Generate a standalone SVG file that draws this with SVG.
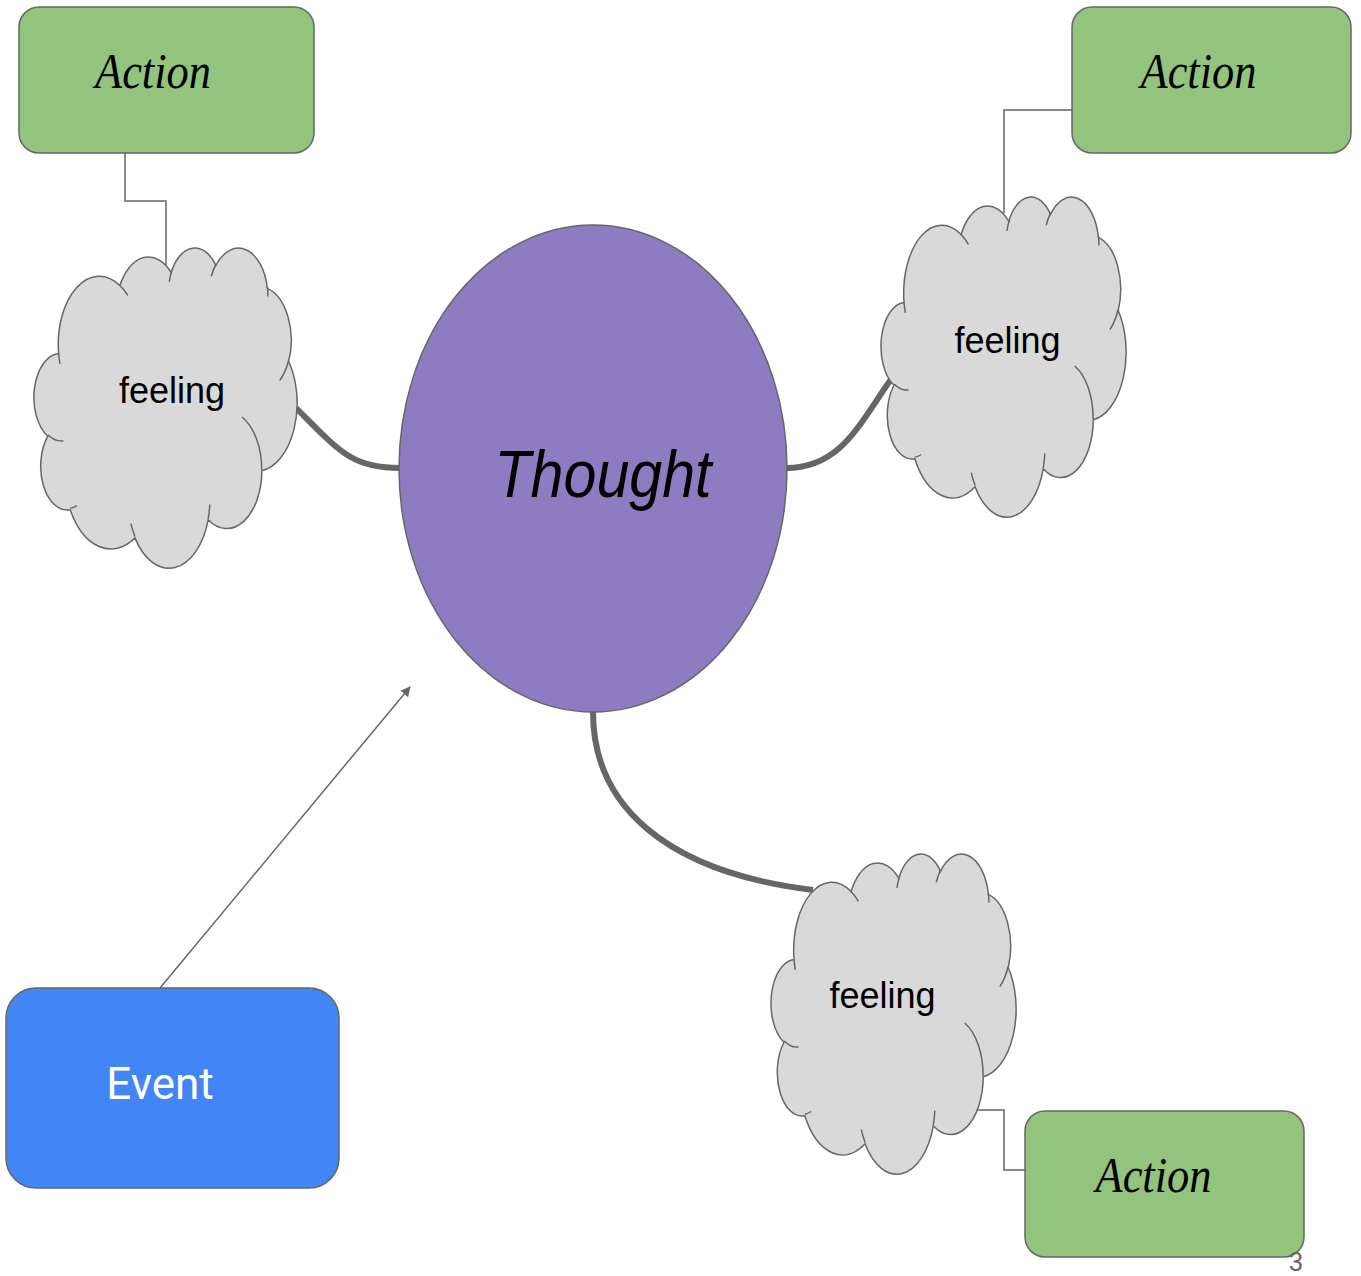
<svg xmlns="http://www.w3.org/2000/svg" width="1361" height="1276" viewBox="0 0 1361 1276">
<defs>
<style>
.action{fill:#93c47d;stroke:#666;stroke-width:1.5}
.atxt{font-family:"Liberation Serif",serif;font-style:italic;font-size:50px;fill:#000;text-anchor:middle}
.cloud{fill:#d9d9d9;stroke:#666;stroke-width:1.5}
.cloudin{fill:none;stroke:#666;stroke-width:1.5}
.ftxt{font-family:"Liberation Sans",Arial,sans-serif;font-size:36px;fill:#000;text-anchor:middle}
.thick{fill:none;stroke:#666;stroke-width:6}
.thin{fill:none;stroke:#666;stroke-width:1.5}
</style>
<path id="cloudOuter" vector-effect="non-scaling-stroke" d="M3900,14370 A6753,9190 0 0 1 14005,5202.5 A5333,7267 0 0 1 22457,3433.5 A4365,5945 0 0 1 29833.5,2483.5 A4857,6595 0 0 1 38319.5,5578.5 A5333,7273 0 0 1 41820,15462.5 A6775,9220 0 0 1 37406,30205.5 A5785,7867 0 0 1 28557,36815.5 A6752,9215 0 0 1 16480.5,39266 A7720,10543 0 0 1 5804.5,35470 A4360,5918 0 0 1 2114.5,25546 A4345,5945 0 0 1 3900,14370 Z"/>
<path id="cloudInner" vector-effect="non-scaling-stroke" d="M4693,26177 A4345,5945 0 0 1 2160,25380 M6928,34899 A4360,5918 0 0 1 5819,35281 M16478,39090 A6752,9215 0 0 1 15811,37350 M28827,34751 A6752,9215 0 0 1 28560,36660 M34129,22954 A5785,7867 0 0 1 37381,30090 M41798,15354 A5333,7273 0 0 1 40350,18030 M38324,5426 A4857,6595 0 0 1 38400,6690 M29078,3952 A4857,6595 0 0 1 29819,2340 M22141,4720 A4365,5945 0 0 1 22502,3328 M14000,5192 A6753,9190 0 0 1 15300,6541 M4127,15789 A6753,9190 0 0 1 3901,14370"/>
<marker id="arrow" viewBox="0 0 10 10" refX="9" refY="5" markerWidth="10" markerHeight="10" orient="auto" markerUnits="userSpaceOnUse">
<path d="M0,0 L10,5 L0,10 Z" fill="#666"/>
</marker>
</defs>
<rect width="1361" height="1276" fill="#fff"/>

<g id="connectors">
<path class="thick" d="M296,408 C340,452 352,468 400,468"/>
<path class="thick" d="M786,468 C842,468 860,422 892,378"/>
<path class="thick" d="M593,712 C593,805 665,872 813,890"/>
<path class="thin" d="M125,153 V201 H166 V265"/>
<path class="thin" d="M1072,110 H1004 V213"/>
<path class="thin" d="M973,1110 H1004 V1170 H1025"/>
<line class="thin" x1="160" y1="988" x2="410" y2="687" marker-end="url(#arrow)"/>
</g>

<g id="thought">
<ellipse cx="593" cy="468.5" rx="194" ry="243.5" fill="#8e7cc3" stroke="#666" stroke-width="1.5"/>
<text x="603" y="497" font-family="'Liberation Sans',sans-serif" font-style="italic" font-size="66" text-anchor="middle" textLength="217" lengthAdjust="spacingAndGlyphs">Thought</text>
</g>

<g id="feeling-left">
<use href="#cloudOuter" class="cloud" transform="translate(35,247) scale(0.006065,0.0074074)"/>
<use href="#cloudInner" class="cloudin" transform="translate(35,247) scale(0.006065,0.0074074)"/>
<text class="ftxt" x="172" y="403">feeling</text>
</g>

<g id="feeling-right">
<use href="#cloudOuter" class="cloud" transform="translate(882,196) scale(0.005648,0.0074074)"/>
<use href="#cloudInner" class="cloudin" transform="translate(882,196) scale(0.005648,0.0074074)"/>
<text class="ftxt" x="1007.5" y="353">feeling</text>
</g>

<g id="feeling-bottom">
<use href="#cloudOuter" class="cloud" transform="translate(772,853) scale(0.005648,0.0074074)"/>
<use href="#cloudInner" class="cloudin" transform="translate(772,853) scale(0.005648,0.0074074)"/>
<text class="ftxt" x="882.5" y="1008">feeling</text>
</g>

<g id="action-topleft">
<rect class="action" x="19" y="7" width="295" height="146" rx="20"/>
<text class="atxt" x="153" y="88" textLength="116" lengthAdjust="spacingAndGlyphs">Action</text>
</g>

<g id="action-topright">
<rect class="action" x="1072" y="7" width="279" height="146" rx="20"/>
<text class="atxt" x="1198.5" y="88" textLength="116" lengthAdjust="spacingAndGlyphs">Action</text>
</g>

<g id="action-bottom">
<rect class="action" x="1025" y="1111" width="279" height="146" rx="20"/>
<text class="atxt" x="1153.5" y="1192" textLength="116" lengthAdjust="spacingAndGlyphs">Action</text>
</g>

<g id="event">
<rect x="6" y="988" width="333" height="200" rx="30" fill="#4285f4" stroke="#666" stroke-width="1.5"/>
<text x="160" y="1099" font-family="Roboto,'Liberation Sans',sans-serif" font-size="44" fill="#fff" text-anchor="middle">Event</text>
</g>

<text x="1296" y="1271" font-family="Roboto,'Liberation Sans',sans-serif" font-size="26" fill="#666" text-anchor="middle">3</text>
</svg>
